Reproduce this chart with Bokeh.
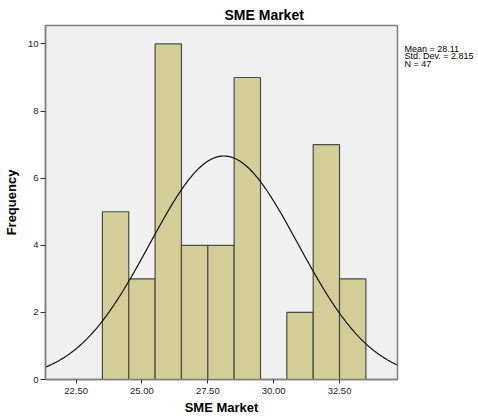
import math
import numpy as np
from bokeh.plotting import figure
from bokeh.layouts import row
from bokeh.models import FixedTicker, Range1d, NumeralTickFormatter
from bokeh.core.properties import value
from bokeh.embed import file_html
from bokeh.resources import INLINE

# ---- data ----
bin_left = [23.5, 24.5, 25.5, 26.5, 27.5, 28.5, 29.5, 30.5, 31.5, 32.5]
counts = [5, 3, 10, 4, 4, 9, 0, 2, 7, 3]
bin_width = 1.0
mean = 28.11
std_dev = 2.815
n_obs = 47
x_ticks = [22.5, 25.0, 27.5, 30.0, 32.5]
y_ticks = [0, 2, 4, 6, 8, 10]
title_text = "SME Market"
x_title = "SME Market"
y_title = "Frequency"
stats_lines = ["Mean = 28.11", "Std. Dev. = 2.815", "N = 47"]

X0, X1 = 21.34, 34.7
Y0, Y1 = 0, 10.55
FONT = "Liberation Sans"
H = 418
TOP, BOTTOM = 25, 39

p = figure(width=400, height=H, output_backend="svg", toolbar_location=None,
           x_range=Range1d(X0, X1), y_range=Range1d(Y0, Y1),
           min_border_left=39, min_border_right=3, min_border_top=TOP, min_border_bottom=BOTTOM,
           title=title_text)
p.background_fill_color = "#f0f0f0"
p.border_fill_color = "white"
p.outline_line_color = "#808080"
p.outline_line_width = 1.5
p.grid.visible = False

p.title.align = "left"
p.title.offset = 179
p.title.standoff = 5
p.title.text_font = FONT
p.title.text_font_size = "14px"
p.title.text_font_style = "bold"
p.title.text_color = "black"

# bars (skip empty bins)
lefts = [l for l, c in zip(bin_left, counts) if c > 0]
tops = [c for c in counts if c > 0]
rights = [l + bin_width for l in lefts]
p.quad(left=lefts, right=rights, bottom=0, top=tops,
       fill_color="#d3ce97", line_color="#4a4a4a", line_width=1.2)

# fitted normal curve
xs = np.linspace(X0, X1, 300)
ys = n_obs * bin_width / (std_dev * math.sqrt(2 * math.pi)) * np.exp(-0.5 * ((xs - mean) / std_dev) ** 2)
p.line(xs, ys, line_color="#111111", line_width=1.2)

for ax in (p.xaxis[0], p.yaxis[0]):
    ax.axis_line_color = "#808080"
    ax.axis_line_width = 1.5
    ax.major_tick_line_color = "#333333"
    ax.major_tick_in = 0
    ax.major_tick_out = 4
    ax.minor_tick_line_color = None
    ax.major_label_text_font = FONT
    ax.major_label_text_font_size = "9.5px"
    ax.major_label_text_color = "#222222"
    ax.axis_label_text_font = FONT
    ax.axis_label_text_font_size = "13px"
    ax.axis_label_text_font_style = "bold"
    ax.axis_label_text_color = "black"

p.xaxis.ticker = FixedTicker(ticks=x_ticks)
p.xaxis.formatter = NumeralTickFormatter(format="0.00")
p.xaxis.major_label_standoff = 4
p.xaxis.axis_label = x_title
p.xaxis.axis_label_standoff = 3
p.yaxis.ticker = FixedTicker(ticks=y_ticks)
p.yaxis.major_tick_out = 5
p.yaxis.major_label_standoff = 2
p.yaxis.axis_label = y_title
p.yaxis.axis_label_standoff = 6

# stats panel: its frame lines up with the main frame; y in page pixels from top
s = figure(width=78, height=H, output_backend="svg", toolbar_location=None,
           x_range=Range1d(0, 78), y_range=Range1d(H - BOTTOM, TOP),
           min_border_left=0, min_border_right=0,
           min_border_top=TOP, min_border_bottom=BOTTOM)
s.axis.visible = False
s.grid.visible = False
s.outline_line_color = None
s.background_fill_color = "white"
s.border_fill_color = "white"
s.text(x=[4, 4, 4], y=[48.5, 55.8, 63.1], text=stats_lines, text_font=value(FONT),
       text_font_size="9px", text_baseline="middle", text_align="left", text_color="black")

layout = row(p, s, spacing=0)
open("out.html", "w").write(file_html(layout, INLINE))
